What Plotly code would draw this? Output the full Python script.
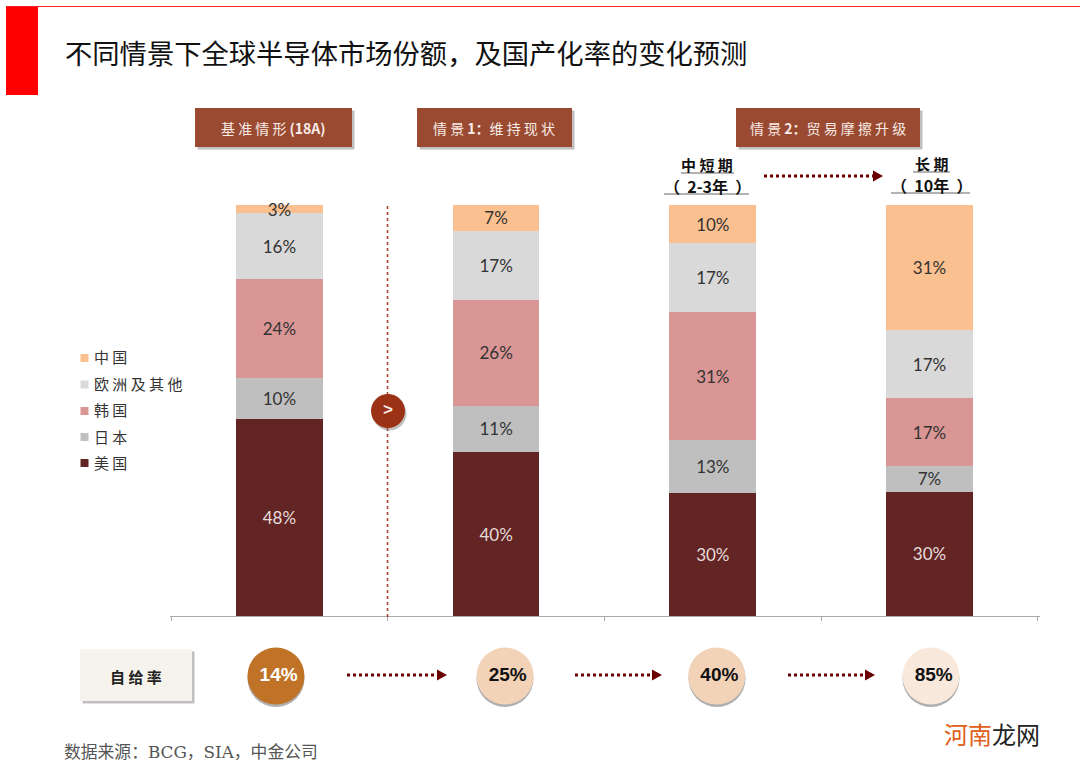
import plotly.graph_objects as go

# ---------- data ----------
scenarios = ["基准情形(18A)", "情景1:维持现状", "情景2:中短期(2-3年)", "情景2:长期(10年)"]
series_names = ["美国", "日本", "韩国", "欧洲及其他", "中国"]
# segment heights (share of each bar, %)
usa = [47.9, 39.9, 29.9, 30.2]
japan = [10.0, 11.2, 12.9, 6.3]
korea = [24.1, 25.8, 31.1, 16.5]
europe = [16.0, 16.8, 16.8, 16.5]
china = [2.0, 6.3, 9.3, 30.5]
# printed labels
usa_labels = ["48%", "40%", "30%", "30%"]
japan_labels = ["10%", "11%", "13%", "7%"]
korea_labels = ["24%", "26%", "31%", "17%"]
europe_labels = ["16%", "17%", "17%", "17%"]
china_labels = ["3%", "7%", "10%", "31%"]
self_rate = [14, 25, 40, 85]

# ---------- style ----------
W, H = 1080, 767
colors = ["#632523", "#bfbfbf", "#d99694", "#d9d9d9", "#fbc08f"]
label_colors = ["#e6dcdc", "#333333", "#333333", "#333333", "#333333"]
rate_fill = ["#c07226", "#f2d3b8", "#f2d3b8", "#f9e8dc"]
rate_text = ["#ffffff", "#111111", "#111111", "#111111"]
rate_nudge = [-0.016, 0.0415, 0.018, 0.007]
X_RANGE = [-0.505, 3.51]
CJK = "Noto Sans CJK SC"
DARK_RED = "#6b0000"
BOX = "#9b4a32"
SHADOW = "rgba(90,90,90,0.38)"


def px(x):
    return x / W


def py(y):
    return 1 - y / H


shapes, notes = [], []


def rect(x0, y0, x1, y1, fill, layer="below"):
    shapes.append(dict(type="rect", xref="paper", yref="paper", x0=px(x0), x1=px(x1), y0=py(y0), y1=py(y1),
                       fillcolor=fill, line_width=0, layer=layer))


def line(x0, y0, x1, y1, color, width=1, dash="solid"):
    shapes.append(dict(type="line", xref="paper", yref="paper", x0=px(x0), x1=px(x1), y0=py(y0), y1=py(y1),
                       line=dict(color=color, width=width, dash=dash), layer="above"))


def circle(cx, cy, r, fill, layer="below"):
    shapes.append(dict(type="circle", xref="paper", yref="paper", x0=px(cx - r), x1=px(cx + r),
                       y0=py(cy - r), y1=py(cy + r), fillcolor=fill, line_width=0, layer=layer))


def note(x, y, text, size, color="#111111", family=CJK, anchor="center"):
    notes.append(dict(xref="paper", yref="paper", x=px(x), y=py(y), text=text, showarrow=False,
                      xanchor=anchor, yanchor="middle", font=dict(size=size, color=color, family=family)))


def arrow(x0, x1, y):
    shapes.append(dict(type="line", xref="paper", yref="paper", x0=px(x0), x1=px(x1 - 8), y0=py(y), y1=py(y),
                       line=dict(color=DARK_RED, width=3, dash="dot"), layer="above"))
    shapes.append(dict(type="path", xref="paper", yref="paper",
                       path=f"M {px(x1-10)} {py(y-5.5)} L {px(x1)} {py(y)} L {px(x1-10)} {py(y+5.5)} Z",
                       fillcolor=DARK_RED, line_width=0, layer="above"))


# frame
line(6, 6.5, 1080, 6.5, "#ff2020", 1.2)
rect(6, 6, 38, 95, "#ff0000")
note(63, 51.5, "不同情景下全球半导体市场份额\uff0c及国产化率的变化预测", 27.3, anchor="left")

# headers
for x0, x1, txt in [(195, 352, "基 准 情 形 <b>(18A)</b>"),
                    (417, 572, "情 景 <b>1\uff1a</b>维 持 现 状"),
                    (736, 920, "情 景 <b>2\uff1a</b>贸 易 摩 擦 升 级")]:
    rect(x0 + 2.5, 110.5, x1 + 2.5, 149.5, SHADOW)
    rect(x0, 108, x1, 147, BOX)
    note((x0 + x1) / 2 - 0.5, 128.5, txt, 14, "#f7ecE6")

note(707, 165, "<b>中 短 期</b>", 15)
line(681, 173, 734, 173, "#666666", 1)
note(707, 186, "<b>\uff08&nbsp;&nbsp;2-3年&nbsp;&nbsp;\uff09</b>", 16)
line(664, 194, 749, 194, "#666666", 1)
note(931, 163, "<b>长 期</b>", 15)
line(913, 172, 950, 172, "#666666", 1)
note(931, 185, "<b>\uff08&nbsp;&nbsp;10年&nbsp;&nbsp;\uff09</b>", 16)
line(891, 193, 970, 193, "#666666", 1)
arrow(764, 883, 176)

# divider
line(387.5, 206, 387.5, 619, "#a8432f", 1.6, "dot")
circle(389.5, 413.5, 17, SHADOW, "above")
circle(388, 411, 17, "#9b3216", "above")
note(388, 410, "<b>></b>", 17, "#f7ecE6", "Liberation Sans")

# legend
legend_y = [358, 384.5, 411, 437, 463]
legend_cols = list(reversed(colors))
legend_text = ["中 国", "欧 洲 及 其 他", "韩 国", "日 本", "美 国"]
for y, c, t in zip(legend_y, legend_cols, legend_text):
    rect(80.5, y - 4, 88.5, y + 4, c)
    note(91.5, y - 1, t, 15, "#333333", anchor="left")

# self-sufficiency row
rect(82.5, 651.5, 194.5, 703.5, SHADOW)
rect(80, 649, 192, 701, "#f6f3ed")
note(136, 676, "<b>自 给 率</b>", 15, "#222222")
arrow(347, 447, 675)
arrow(575, 662, 675)
arrow(788, 875, 675)
for cx in (276, 505, 717, 931):
    circle(cx, 678.5, 28.5, "rgba(110,110,110,0.55)")

# source + watermark
note(62, 752, "数据来源\uff1aBCG\uff0cSIA\uff0c中金公司", 16.8, "#555555", "DejaVu Serif, Noto Sans CJK SC", "left")
note(1042, 733, "<span style='color:#e0601a'>河南</span>龙网", 24, "#222222", CJK, "right")

# ---------- traces ----------
fig = go.Figure()
for name, vals, labels, col, lab in zip(
        series_names, [usa, japan, korea, europe, china],
        [usa_labels, japan_labels, korea_labels, europe_labels, china_labels], colors, label_colors):
    fig.add_trace(go.Bar(
        x=scenarios, y=vals, name=name, width=0.4, marker=dict(color=col, line_width=0),
        text=labels, textposition="inside", insidetextanchor="middle",
        textangle=0, constraintext="none", cliponaxis=False,
        textfont=dict(size=17, color=lab, family="Lato, Carlito, Open Sans"),
        showlegend=False,
    ))

fig.add_trace(go.Scatter(
    x=[i + n for i, n in enumerate(rate_nudge)], y=[0.5] * len(self_rate),
    xaxis="x2", yaxis="y2", mode="markers+text", name="自给率",
    marker=dict(size=57, color=rate_fill, line_width=0),
    text=[f"&nbsp;<b>{v}%</b>" for v in self_rate], textposition="middle center",
    textfont=dict(size=19, color=rate_text, family="Liberation Sans"),
    showlegend=False, cliponaxis=False,
))

fig.update_layout(
    width=W, height=H, autosize=False, margin=dict(l=0, r=0, t=0, b=0),
    paper_bgcolor="white", plot_bgcolor="rgba(0,0,0,0)",
    barmode="stack", bargap=0.6, showlegend=False,
    shapes=shapes, annotations=notes,
    xaxis=dict(domain=[px(170), px(1040)], type="category", range=X_RANGE, tickson="boundaries",
               showticklabels=False, ticks="outside", ticklen=4, tickcolor="#aaaaaa",
               showline=True, linecolor="#aaaaaa", linewidth=1.2, showgrid=False, zeroline=False, anchor="y"),
    yaxis=dict(domain=[py(616), py(205)], range=[0, 100], visible=False, anchor="x"),
    xaxis2=dict(domain=[px(170), px(1040)], range=X_RANGE, visible=False, anchor="y2"),
    yaxis2=dict(domain=[py(706), py(646)], range=[0, 1], visible=False, anchor="x2"),
)

fig.write_html("out.html", config=dict(displayModeBar=False),
               post_script="document.body.style.margin='0';")
